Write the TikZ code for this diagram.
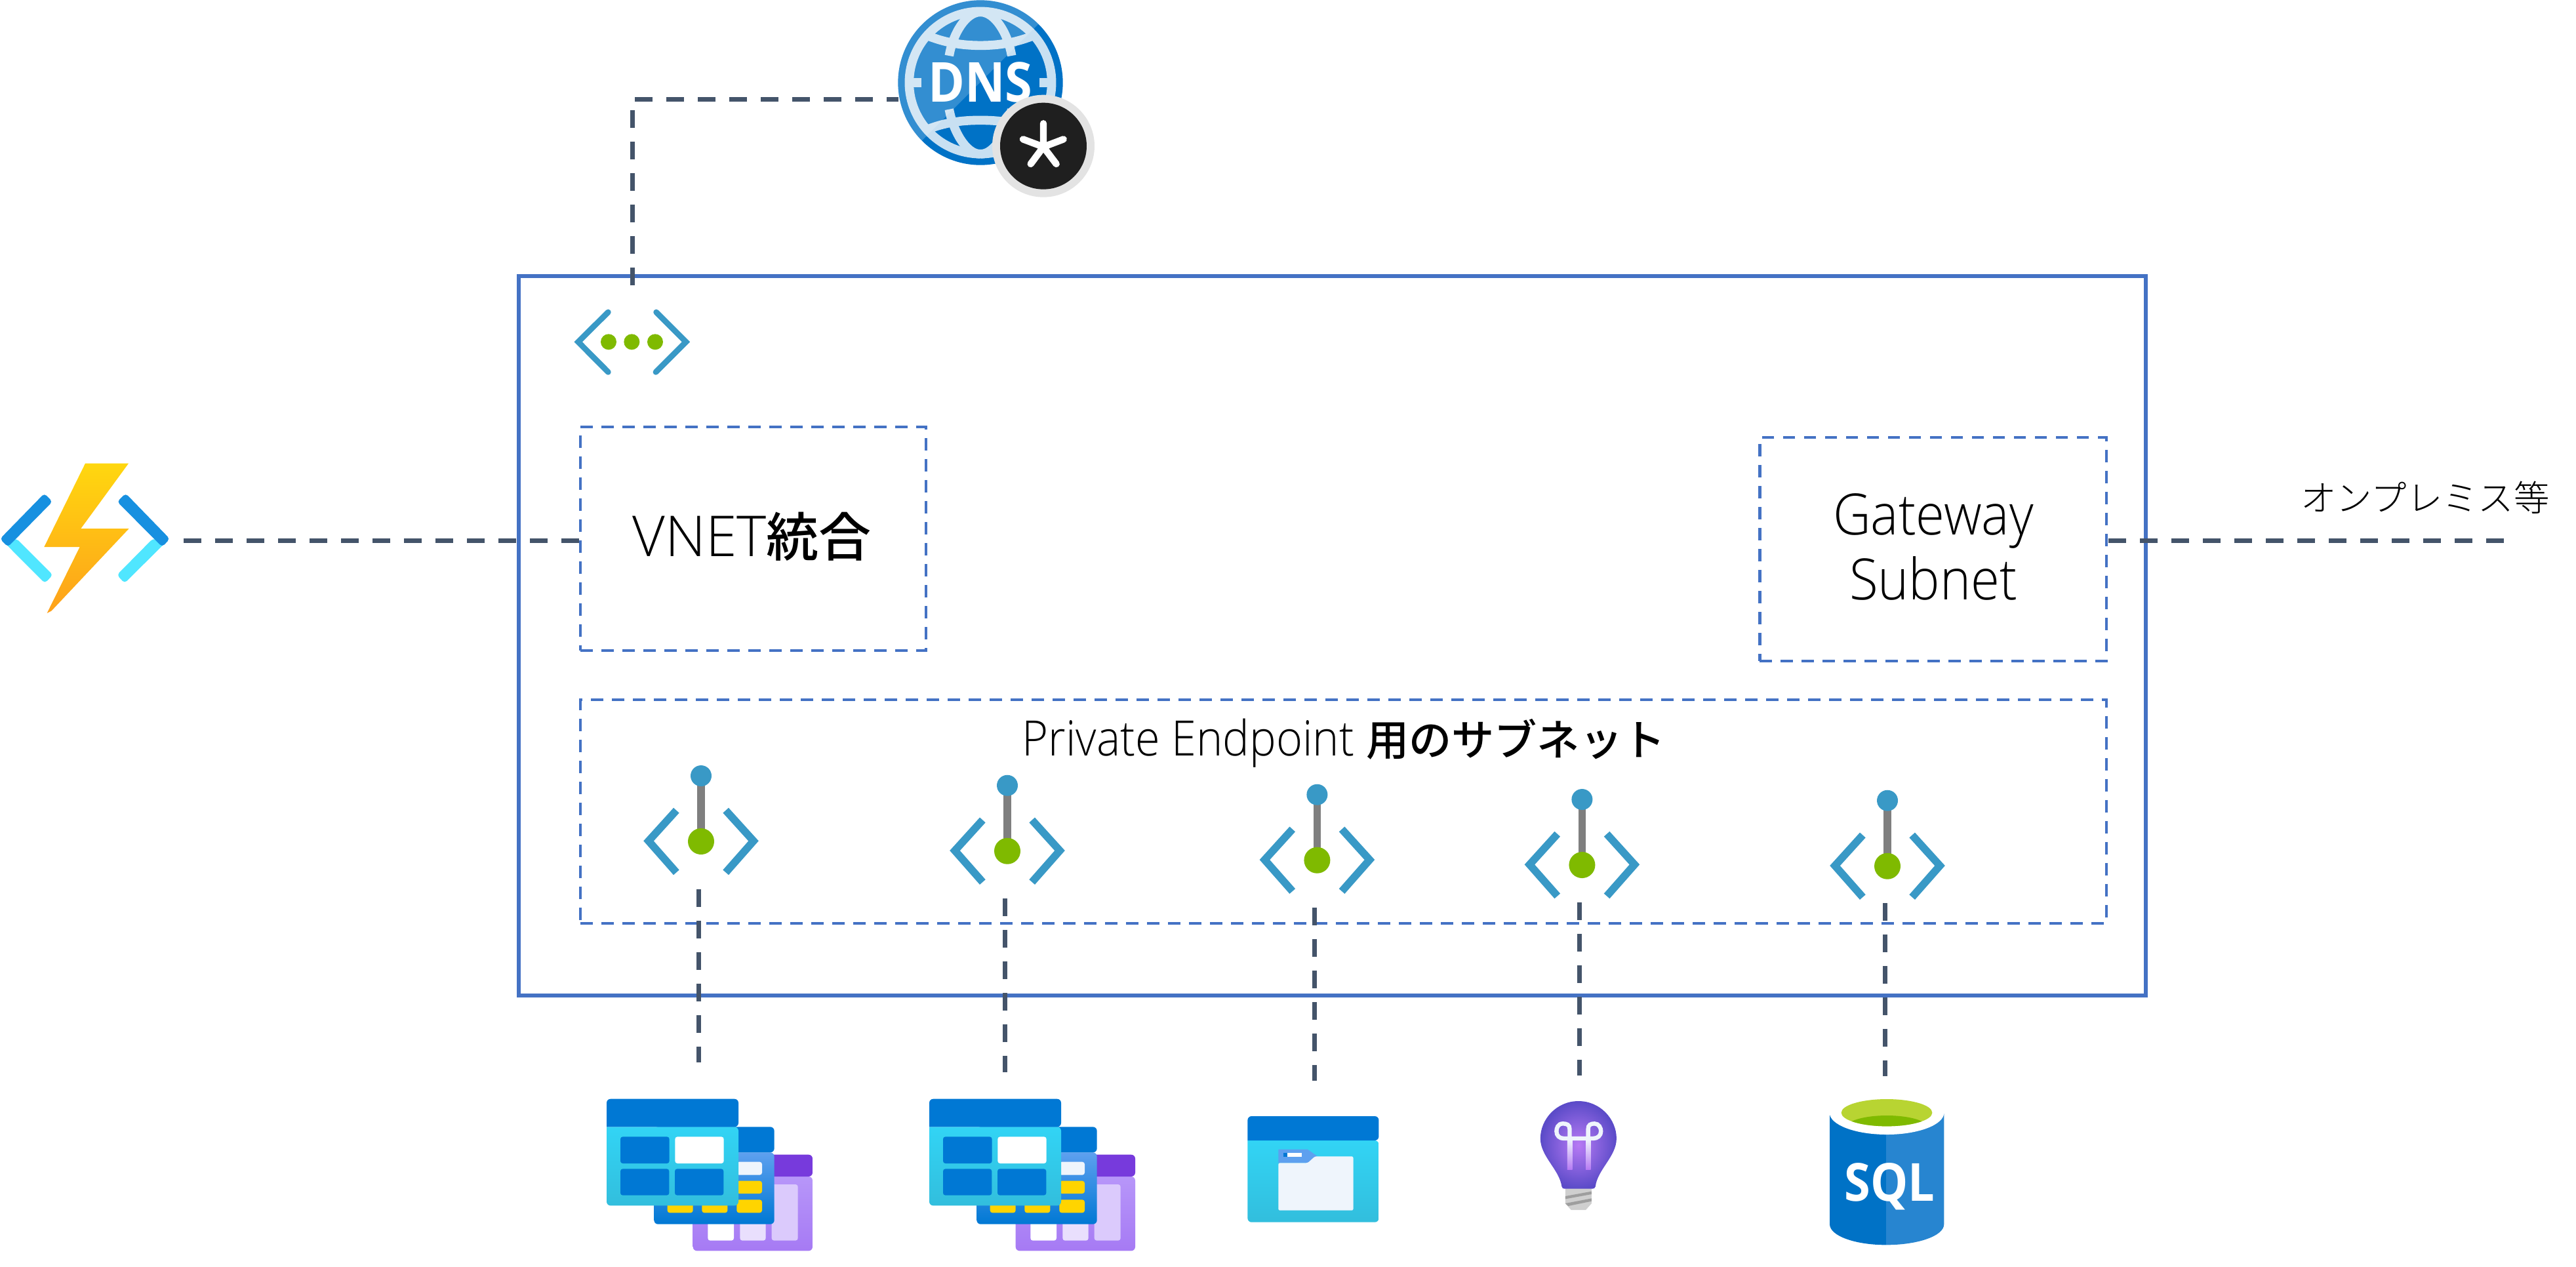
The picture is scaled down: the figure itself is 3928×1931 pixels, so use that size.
\documentclass[tikz,border=0pt]{standalone}
\usepackage{fontspec}
\setmainfont{Open Sans}
\newfontfamily\lightf{Open Sans Light}
\newfontfamily\lightn{Open Sans Light}[FakeStretch=0.92]
\newfontfamily\boldn{Open Sans}[FakeStretch=0.9]
\newcommand\boldsf{\boldn\bfseries}
\newfontfamily\cjkr{Noto Sans CJK JP Light}
\newfontfamily\cjkm{Noto Sans CJK JP Medium}
\usetikzlibrary{calc}
\definecolor{boxblue}{HTML}{4472C4}
\definecolor{linkgrey}{HTML}{44546A}
\definecolor{azchev}{HTML}{3999C6}
\definecolor{azgreen}{HTML}{7FBA00}
\definecolor{azblue}{HTML}{0078D4}
\definecolor{azdark}{HTML}{0072C6}
\definecolor{azcyan}{HTML}{32D4F5}
\definecolor{azcyanb}{HTML}{32BEDD}
\definecolor{azmid}{HTML}{5EA0EF}
\definecolor{azpurple}{HTML}{773ADC}
\definecolor{azlil}{HTML}{B796F9}
\definecolor{azlilb}{HTML}{A67AF4}
\definecolor{azyellow}{HTML}{FFD400}
\definecolor{azpale}{HTML}{EFF5FC}
\definecolor{ringc}{HTML}{C8E0F2}
\definecolor{fndark}{HTML}{1790E0}
\definecolor{fnlight}{HTML}{50E6FF}
\definecolor{boltt}{HTML}{FFD70F}
\definecolor{boltb}{HTML}{FEA11B}
\definecolor{bulbi}{HTML}{B77AF4}
\definecolor{bulbo}{HTML}{5B4BC8}
\definecolor{sqlr}{HTML}{2785D0}
% window with header: x0 y0 yh x1 y1 header top bottom
\newcommand\azwin[8]{%
  \shade[top color=#7,bottom color=#8] (#1,#3) {[rounded corners=1.5pt] -- (#1,#5) -- (#4,#5) -- (#4,#3)} -- cycle;
  \fill[#6] (#1,#3) {[rounded corners=1.5pt] -- (#1,#2) -- (#4,#2) -- (#4,#3)} -- cycle;
}
\newcommand\azcell[5]{\fill[#5,rounded corners=.9pt] (#1,#2) rectangle (#3,#4);}
\tikzset{
  conn/.style={draw=linkgrey,line width=1.75pt,dash pattern=on 6.8pt off 5.2pt},
  subnetbox/.style={draw=boxblue,line width=1.2pt,dash pattern=on 4.67pt off 3.33pt,inner sep=0pt,outer sep=0pt},
  vnetbox/.style={draw=boxblue,line width=1.5pt,inner sep=0pt,outer sep=0pt},
  zoomthree/.style={x=0.083333pt,y=-0.083333pt},
  zoomwide/.style={x=0.111607pt,y=-0.083333pt},
  pe/.pic={
    \begin{scope}[zoomthree]
      \draw[azchev,line width=2.9pt,line join=miter] (-113,-142) -- (-240,-2) -- (-113,142);
      \draw[azchev,line width=2.9pt,line join=miter] (113,-142) -- (240,-2) -- (113,142);
      \draw[color={rgb,255:red,127;green,127;blue,127},line width=2.9pt] (0,-300) -- (0,0);
      \fill[azchev] (0,-300) circle[radius=48];
      \fill[azgreen] (0,0) circle[radius=60];
    \end{scope}
  },
  vnet/.pic={
    \begin{scope}[zoomthree]
      \draw[azchev,line width=2.2pt,line cap=round] (262,168) -- (125,304) -- (262,442);
      \draw[azchev,line width=2.2pt,line cap=round] (482,168) -- (618,304) -- (480,442);
      \fill[azgreen] (264,304) circle[radius=36] (370,304) circle[radius=36] (477,304) circle[radius=36];
    \end{scope}
  },
  storage/.pic={
    \begin{scope}[zoomthree]
      \azwin{470}{332}{432}{1017}{772}{azpurple}{azlil}{azlilb}
      \azcell{830}{468}{950}{725}{white!50!azlil}
      \azcell{685}{600}{803}{725}{white!70!azlil}
      \azcell{538}{600}{657}{725}{white}
      \azwin{292}{205}{322}{842}{650}{azblue}{azmid}{azblue}
      \azcell{670}{365}{786}{425}{azpale}
      \azcell{670}{452}{786}{510}{azyellow}
      \azcell{670}{538}{786}{598}{azyellow}
      \azcell{511}{538}{628}{598}{azyellow}
      \azcell{353}{538}{470}{598}{azyellow}
      \azwin{75}{77}{205}{678}{565}{azblue}{azcyan}{azcyanb}
      \azcell{138}{250}{362}{372}{azblue}
      \azcell{388}{250}{611}{372}{white}
      \azcell{138}{397}{361}{518}{azblue}
      \azcell{387}{397}{610}{518}{azblue}
    \end{scope}
  },
}
\begin{document}
\begin{tikzpicture}[x=0.25pt,y=-0.25pt]
\useasboundingbox (0,0) rectangle (3928,1931);
% boxes
\node[vnetbox,minimum width=2481*0.25pt,minimum height=1097*0.25pt] (vnetoutline) at (2031.5,969.5) {};
\node[subnetbox,minimum width=527*0.25pt,minimum height=341*0.25pt] (vnetint) at (1148.5,821.5) {};
\node[subnetbox,minimum width=528.5*0.25pt,minimum height=341*0.25pt] (gw) at (2947.7,837.5) {};
\node[subnetbox,minimum width=2327*0.25pt,minimum height=341*0.25pt] (pesub) at (2048.5,1237.5) {};
% texts
\node[anchor=base,inner sep=0pt] (vnettxt) at (1146.5,848) {\fontsize{21.5}{25}\selectfont\lightf VNET\fontsize{20}{25}\selectfont\cjkm 統合};
\node[anchor=center,inner sep=0pt,align=center,font={\fontsize{21.7}{24.75}\selectfont\lightn}] (gwtxt) at (2948,834) {Gateway\\Subnet};
\node[anchor=base,inner sep=0pt] (petxt) at (2049,1152) {\fontsize{18.6}{22}\selectfont\lightn Private Endpoint \fontsize{16.3}{22}\selectfont\cjkm 用のサブネット};
\node[anchor=base,inner sep=0pt] (onpremtxt) at (3698,779) {\fontsize{13.6}{16}\selectfont\cjkr オンプレミス等};
% DNS icon
\begin{scope}[shift={(1300,0)},zoomthree]
  \fill[azdark] (585,378) circle[radius=377];
  \begin{scope}[color=ringc,line width=3.4pt]
    \draw (585,378) circle[radius=326];
    \draw (335,160) .. controls (420,195) and (500,208) .. (585,208) .. controls (670,208) and (750,195) .. (835,160);
    \draw (335,595) .. controls (420,560) and (500,550) .. (585,550) .. controls (670,550) and (750,560) .. (835,595);
    \draw (585,55) .. controls (520,55) and (460,150) .. (442,255);
    \draw (585,55) .. controls (650,55) and (710,150) .. (728,255);
    \draw (585,705) .. controls (520,705) and (460,600) .. (442,500);
    \draw (585,705) .. controls (650,705) and (710,600) .. (728,500);
    \draw (280,378) -- (315,378);
    \draw (855,378) -- (893,378);
  \end{scope}
  \begin{scope}
    \clip (585,378) circle[radius=377];
    \fill[white,opacity=.2] (900,60) -- (280,680) -- (0,680) -- (0,0) -- (900,0) -- cycle;
  \end{scope}
  \node[text=white,inner sep=0pt,anchor=base] (dnstxt) at (585,467) {\fontsize{21}{25}\selectfont\boldsf DNS};
  \fill[color={rgb,255:red,227;green,227;blue,227}] (873,668) circle[radius=234];
  \fill[color={rgb,255:red,31;green,31;blue,31}] (873,668) circle[radius=198];
  \draw[white,line width=2.6pt,line cap=round] (873,672) -- (873,565) (873,672) -- (780,637) (873,672) -- (965,637) (873,672) -- (815,750) (873,672) -- (932,750);
\end{scope}
% Function icon
\begin{scope}[shift={(0,680)},zoomthree]
  \fill[fnlight,rounded corners=1.2pt] (20,442) -- (75,423) -- (242,590) -- (205,628) -- cycle;
  \fill[fndark,rounded corners=1.2pt] (203,217) -- (240,255) -- (36,462) -- (0,425) -- cycle;
  \fill[fnlight,rounded corners=1.2pt] (757,442) -- (700,423) -- (535,590) -- (570,628) -- cycle;
  \fill[fndark,rounded corners=1.2pt] (575,217) -- (536,255) -- (742,462) -- (777,425) -- cycle;
  \shade[top color=boltt,bottom color=boltb] (390,80) -- (588,80) -- (370,378) -- (590,378) -- (235,755) -- (215,765) -- (365,462) -- (202,462) -- cycle;
\end{scope}
% network icon
\pic (vneticon) at (840,420) {vnet};
% private endpoints
\pic (pe1) at (1069,1283) {pe};
\pic (pe2) at (1536,1297.7) {pe};
\pic (pe3) at (2008.4,1311.7) {pe};
\pic (pe4) at (2412.4,1319) {pe};
\pic (pe5) at (2878,1320.7) {pe};
% storage
\pic (st1) at (900,1650) {storage};
\pic (st2) at (1392,1650) {storage};
% folder
\begin{scope}[shift={(1860,1650)},zoomwide]
  \azwin{95}{156}{267}{543}{641}{azblue}{azcyan}{azcyanb}
  \fill[azmid] (200,308) -- (300,308) -- (332,338) -- (300,370) -- (200,370) -- cycle;
  \fill[azpale,rounded corners=.6pt] (200,370) -- (300,370) -- (325,340) -- (456,340) -- (456,587) -- (200,587) -- cycle;
  \fill[white] (217,323) rectangle (280,341);
  \fill[azblue] (217,323) rectangle (230,341);
\end{scope}
% bulb
\begin{scope}[shift={(1860,1650)},zoomwide]
  \fill[color={rgb,255:red,207;green,207;blue,207}] (1180,480) -- (1270,480) -- (1270,555) -- (1250,585) -- (1200,585) -- (1180,555) -- cycle;
  \fill[color={rgb,255:red,158;green,158;blue,158}] (1180,522) -- (1270,500) -- (1270,513) -- (1180,535) -- cycle;
  \fill[color={rgb,255:red,158;green,158;blue,158}] (1180,555) -- (1270,532) -- (1270,545) -- (1190,567) -- cycle;
  \shade[inner color=bulbi,outer color=bulbo] (1225,87) .. controls (1150,87) and (1095,170) .. (1095,258) .. controls (1095,340) and (1160,400) .. (1168,478) .. controls (1170,486) and (1172,488) .. (1178,488) -- (1272,488) .. controls (1278,488) and (1281,486) .. (1283,478) .. controls (1290,400) and (1355,340) .. (1355,258) .. controls (1355,170) and (1300,87) .. (1225,87) -- cycle;
  \shade[top color=azpale,bottom color=bulbi] (1187,262) rectangle (1204,400);
  \shade[top color=azpale,bottom color=bulbi] (1250,262) rectangle (1267,400);
  \draw[azpale,line width=1.6pt] (1195,258) -- (1195,215) .. controls (1195,195) and (1185,190) .. (1172,190) .. controls (1155,190) and (1150,210) .. (1150,225) .. controls (1150,245) and (1160,258) .. (1175,258) -- (1275,258) .. controls (1290,258) and (1302,245) .. (1302,225) .. controls (1302,210) and (1295,190) .. (1280,190) .. controls (1267,190) and (1258,195) .. (1258,215) -- (1258,258);
\end{scope}
% SQL
\begin{scope}[shift={(2740,1650)},zoomthree]
  \fill[azdark] (150,145) -- (408,145) -- (408,745) .. controls (270,745) and (150,705) .. (150,650) -- cycle;
  \fill[sqlr] (408,145) -- (673,145) -- (673,650) .. controls (673,705) and (550,745) .. (408,745) -- cycle;
  \fill[white] (411,140) ellipse[x radius=262,y radius=100];
  \fill[color={rgb,255:red,184;green,212;blue,50}] (411,140) ellipse[x radius=208,y radius=62];
  \begin{scope}
    \clip (411,140) ellipse[x radius=208,y radius=62];
    \fill[azgreen] (411,210) ellipse[x radius=190,y radius=57];
  \end{scope}
  \node[text=white,inner sep=0pt,anchor=base] (sqltxt) at (425,545) {\fontsize{20}{24}\selectfont\boldsf SQL};
\end{scope}
% connector anchors
\coordinate (dnsW) at (1370,151);
\coordinate (vnetN) at (964,435);
\coordinate (funcE) at (280,824);
\coordinate (onprem) at (3820,824);
\coordinate (gwE) at (3215,824);
\foreach \n/\x/\a/\b in {1/1065.6/1356/1620,2/1532.6/1370/1635,3/2004/1384/1648,4/2408/1376/1640,5/2874.7/1377/1641}{
  \coordinate (peS\n) at (\x,\a);
  \coordinate (res\n) at (\x,\b);
}
\draw[conn] (vnetN) |- (dnsW);
\draw[conn] (funcE) -- (funcE -| vnetint.west);
\draw[conn] (gwE) -- (onprem);
\foreach \n in {1,...,5}{\draw[conn] (peS\n) -- (res\n);}
\end{tikzpicture}
\end{document}
